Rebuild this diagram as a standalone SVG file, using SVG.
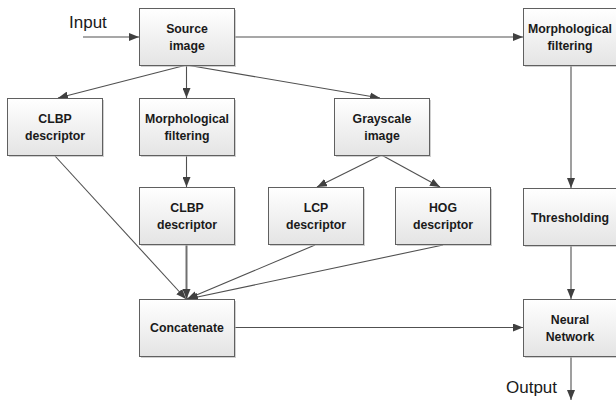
<svg xmlns="http://www.w3.org/2000/svg" width="616" height="403" viewBox="0 0 616 403">
<defs>
<linearGradient id="g" x1="0" y1="0" x2="0" y2="1">
<stop offset="0" stop-color="#ffffff"/>
<stop offset="1" stop-color="#e4e4e4"/>
</linearGradient>
<marker id="a" viewBox="0 0 10 8" refX="10" refY="4" markerWidth="10" markerHeight="8" markerUnits="userSpaceOnUse" orient="auto">
<path d="M0,0 L10,4 L0,8 Z" fill="#404040"/>
</marker>
<style>
.box rect.s{fill:#b0b0b0;stroke:none;opacity:0.6}
.box rect.b{fill:url(#g);stroke:#606060;stroke-width:1}
.box text{font-family:"Liberation Sans",Arial,sans-serif;font-weight:bold;font-size:12.3px;fill:#1a1a1a;text-anchor:middle}
.lbl{font-family:"Liberation Sans",Arial,sans-serif;font-size:17px;fill:#1a1a1a}
#connectors line{stroke:#505050;stroke-width:1.1;fill:none;marker-end:url(#a)}
</style>
</defs>
<rect width="616" height="403" fill="#ffffff"/>
<text class="lbl" x="69" y="28">Input</text>
<text class="lbl" x="506" y="393">Output</text>
<g id="connectors">
<line x1="83" y1="37" x2="139" y2="37"/>
<line x1="234" y1="37" x2="523" y2="37"/>
<line x1="186.5" y1="65" x2="58" y2="98"/>
<line x1="186.5" y1="65" x2="186.5" y2="98"/>
<line x1="186.5" y1="65" x2="380" y2="98"/>
<line x1="186.5" y1="155" x2="186.5" y2="187"/>
<line x1="381.5" y1="155" x2="317" y2="187"/>
<line x1="381.5" y1="155" x2="440" y2="187"/>
<line x1="571" y1="65" x2="571" y2="188"/>
<line x1="55" y1="156" x2="186" y2="299"/>
<line x1="186.5" y1="244" x2="186.5" y2="299" style="stroke:#707070;stroke-width:2"/>
<line x1="315" y1="245" x2="187" y2="299"/>
<line x1="443" y1="245" x2="188" y2="299"/>
<line x1="234" y1="327.5" x2="523" y2="327.5"/>
<line x1="571" y1="245" x2="571" y2="299"/>
<line x1="571" y1="356" x2="571" y2="400"/>
</g>
<g id="source" class="box"><rect class="s" x="141" y="10" width="95" height="57"/><rect class="b" x="139.5" y="8.5" width="95" height="57"/><text x="187" y="33">Source</text><text x="187" y="50">image</text></g>
<g id="morph-right" class="box"><rect class="s" x="525" y="10" width="93" height="57"/><rect class="b" x="523.5" y="8.5" width="93" height="57"/><text x="570" y="33">Morphological</text><text x="570" y="50">filtering</text></g>
<g id="clbp-left" class="box"><rect class="s" x="9" y="100" width="95" height="57"/><rect class="b" x="7.5" y="98.5" width="95" height="57"/><text x="55" y="123">CLBP</text><text x="55" y="140">descriptor</text></g>
<g id="morph-mid" class="box"><rect class="s" x="141" y="100" width="95" height="57"/><rect class="b" x="139.5" y="98.5" width="95" height="57"/><text x="187" y="123">Morphological</text><text x="187" y="140">filtering</text></g>
<g id="grayscale" class="box"><rect class="s" x="336" y="100" width="95" height="57"/><rect class="b" x="334.5" y="98.5" width="95" height="57"/><text x="382" y="123">Grayscale</text><text x="382" y="140">image</text></g>
<g id="clbp-mid" class="box"><rect class="s" x="141" y="189" width="95" height="57"/><rect class="b" x="139.5" y="187.5" width="95" height="57"/><text x="187" y="212">CLBP</text><text x="187" y="229">descriptor</text></g>
<g id="lcp" class="box"><rect class="s" x="270" y="189" width="95" height="57"/><rect class="b" x="268.5" y="187.5" width="95" height="57"/><text x="316" y="212">LCP</text><text x="316" y="229">descriptor</text></g>
<g id="hog" class="box"><rect class="s" x="397" y="189" width="95" height="57"/><rect class="b" x="395.5" y="187.5" width="95" height="57"/><text x="443" y="212">HOG</text><text x="443" y="229">descriptor</text></g>
<g id="thresholding" class="box"><rect class="s" x="525" y="190" width="93" height="57"/><rect class="b" x="523.5" y="188.5" width="93" height="57"/><text x="570" y="221.5">Thresholding</text></g>
<g id="concatenate" class="box"><rect class="s" x="141" y="301" width="95" height="57"/><rect class="b" x="139.5" y="299.5" width="95" height="57"/><text x="187" y="332">Concatenate</text></g>
<g id="neural" class="box"><rect class="s" x="525" y="301" width="93" height="57"/><rect class="b" x="523.5" y="299.5" width="93" height="57"/><text x="570" y="323.5">Neural</text><text x="570" y="340.5">Network</text></g>
</svg>
